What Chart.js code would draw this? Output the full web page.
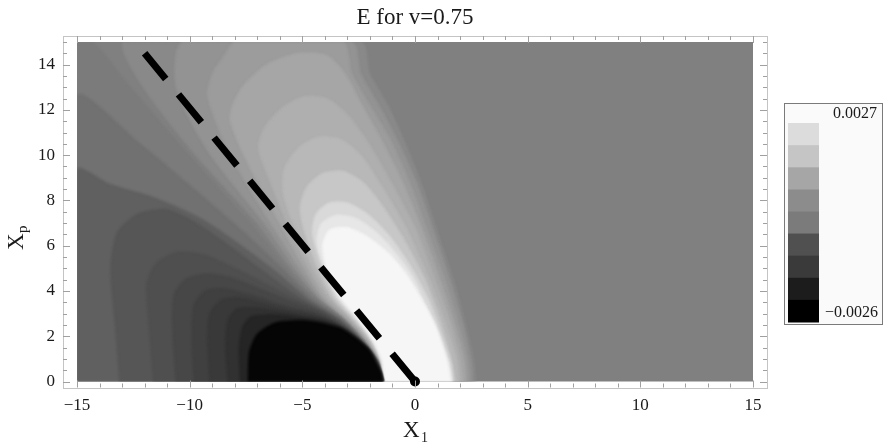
<!DOCTYPE html>
<html>
<head>
<meta charset="utf-8">
<script src="https://cdn.jsdelivr.net/npm/chart.js@4.4.1/dist/chart.umd.min.js"></script>
<style>
  html, body { margin: 0; padding: 0; background: #ffffff; }
  #wrap { width: 884px; height: 445px; }
</style>
</head>
<body>
<div id="wrap"><canvas id="c" width="884" height="445"></canvas></div>
<script>
// ---- field range and tick labels ----
const eMin = -0.0026;
const eMax = 0.0027;
const xTicks = [-15, -10, -5, 0, 5, 10, 15];
const yTicks = [0, 2, 4, 6, 8, 10, 12, 14];

// colour bar: one value per swatch, top to bottom
const colorbarLevels = [0.00196, 0.00147, 0.00081, 0.00026, -0.0001, -0.00098, -0.00142, -0.00203, -0.0026];
const colorbarLabels = ['0.0027', '\u22120.0026'];

// ---- positive contours (E >= level), outer to inner, as [X1, Xp] outlines ----
const posLevels = [0.0002, 0.0004, 0.0006, 0.0008, 0.0010, 0.0012, 0.0015, 0.0019, 0.0022, 0.0025];
const pos1 = [[-1.40,0],[-1.62,0.9],[-2.32,1.9],[-3.2,2.8],[-4.35,3.7],[-5.5,5],[-7.0,7],[-9.9,10.2],[-12.2,13.2],[-12.9,15],[-2.4,15],[-2.0,13.6],[-1.2,12.2],[-0.5,10.7],[0.3,8.7],[1.1,6.3],[1.8,4.2],[2.3,2.3],[2.6,1],[2.7,0]];
const pos2 = [[-1.395,0],[-1.6,0.9],[-2.28,1.9],[-3.15,2.8],[-4.25,3.7],[-5.3,5],[-6.7,7],[-9.2,10.2],[-10.6,13.0],[-10.3,15],[-2.8,15],[-2.4,13.6],[-1.6,12.2],[-0.8,10.7],[0.1,8.7],[0.9,6.4],[1.6,4.3],[2.15,2.4],[2.45,1],[2.55,0]];
const pos3 = [[-1.39,0],[-1.58,0.9],[-2.24,1.9],[-3.1,2.8],[-4.15,3.7],[-5.1,5],[-6.4,7],[-8.3,10.2],[-9.2,12.6],[-9.0,13.6],[-8.4,14.5],[-8.0,15],[-3.2,15],[-2.8,13.6],[-2.0,12.2],[-1.1,10.7],[-0.2,8.7],[0.6,6.5],[1.35,4.4],[1.95,2.4],[2.3,1],[2.4,0]];
const pos4 = [[-1.385,0],[-1.56,0.9],[-2.2,1.9],[-3.05,2.8],[-4.05,3.7],[-4.9,5],[-6.0,7],[-7.5,9.8],[-8.2,11.5],[-8.1,12.2],[-7.6,13.1],[-6.6,14.0],[-5.2,14.5],[-3.9,14.4],[-3.1,13.6],[-2.4,12.3],[-1.5,10.7],[-0.5,8.7],[0.35,6.6],[1.1,4.5],[1.75,2.5],[2.15,1],[2.25,0]];
const pos5 = [[-1.38,0],[-1.54,0.9],[-2.15,1.9],[-2.95,2.8],[-3.9,3.7],[-4.7,5],[-5.6,6.8],[-6.5,9],[-6.95,10.3],[-6.7,11.2],[-5.9,12.1],[-4.9,12.6],[-3.9,12.5],[-3.0,11.8],[-2.1,10.6],[-1.0,8.7],[0.0,6.8],[0.85,4.6],[1.55,2.6],[1.95,1.1],[2.1,0]];
const pos6 = [[-1.375,0],[-1.52,0.9],[-2.1,1.9],[-2.85,2.8],[-3.75,3.7],[-4.5,5],[-5.3,6.7],[-5.85,8.3],[-5.8,9.4],[-5.2,10.3],[-4.3,10.8],[-3.3,10.7],[-2.4,10],[-1.4,8.5],[-0.4,6.8],[0.55,4.7],[1.3,2.7],[1.8,1.1],[1.95,0]];
const pos7 = [[-1.37,0],[-1.5,0.9],[-2.05,1.9],[-2.8,2.8],[-3.65,3.7],[-4.3,5],[-4.9,6.6],[-5.1,7.7],[-4.8,8.6],[-4.1,9.2],[-3.2,9.3],[-2.3,8.8],[-1.4,7.7],[-0.5,6.3],[0.35,4.7],[1.05,2.9],[1.55,1.2],[1.8,0]];
const pos8 = [[-1.365,0],[-1.48,0.9],[-1.98,1.9],[-2.7,2.8],[-3.5,3.7],[-4.1,5],[-4.55,6.5],[-4.4,7.4],[-3.8,7.9],[-3.0,7.9],[-2.1,7.4],[-1.1,6.4],[-0.2,5.1],[0.6,3.6],[1.2,2.0],[1.6,0.8],[1.7,0]];
const pos9 = [[-1.355,0],[-1.47,0.9],[-1.94,1.9],[-2.62,2.8],[-3.4,3.7],[-4.0,4.95],[-4.35,6.2],[-4.15,7.0],[-3.5,7.35],[-2.6,7.2],[-1.6,6.5],[-0.8,5.6],[-0.1,4.6],[0.55,3.2],[1.1,1.9],[1.5,0.8],[1.65,0]];
const pos10 = [[-1.35,0],[-1.45,0.9],[-1.9,1.9],[-2.55,2.8],[-3.3,3.7],[-3.9,4.9],[-4.1,6.0],[-3.8,6.7],[-3.0,6.8],[-2.1,6.4],[-1.2,5.7],[-0.5,4.9],[0.2,3.8],[0.9,2.5],[1.4,1.0],[1.6,0]];

// ---- negative contours (E <= level), outer to inner ----
const negLevels = [-0.0001, -0.0003, -0.00065, -0.00085, -0.0010, -0.00115, -0.0013, -0.00145, -0.0016, -0.00185, -0.0025];
const neg1 = [[-15,0],[-15,15],[-14.3,15],[-12.8,13.2],[-10.2,10.2],[-7.3,7],[-5.7,5],[-4.5,3.7],[-3.25,2.8],[-2.38,1.9],[-1.66,0.9],[-1.41,0]];
const neg2 = [[-15,0],[-15,12.6],[-12.2,10.5],[-9.8,8.5],[-7.6,6.6],[-5.9,5],[-4.6,3.7],[-3.3,2.78],[-2.42,1.88],[-1.68,0.9],[-1.415,0]];
const neg3 = [[-15,0],[-15,9.35],[-13.5,8.7],[-11.5,8.1],[-9.5,7.2],[-7.7,6.0],[-6.1,4.8],[-4.75,3.65],[-3.35,2.76],[-2.44,1.88],[-1.7,0.9],[-1.42,0]];
const neg4 = [[-13.1,0],[-13.3,2.5],[-13.5,5],[-13.2,6.6],[-12.3,7.4],[-11,7.6],[-9.7,7.0],[-8.1,5.9],[-6.5,4.7],[-4.95,3.6],[-3.4,2.72],[-2.46,1.87],[-1.72,0.9],[-1.425,0]];
const neg5 = [[-11.6,0],[-11.8,2.5],[-11.9,4.3],[-11.5,5.2],[-10.6,5.7],[-9.4,5.6],[-8.0,5.0],[-6.6,4.3],[-5.2,3.6],[-4.0,3.0],[-3.4,2.65],[-2.48,1.87],[-1.73,0.9],[-1.43,0]];
const neg6 = [[-10.6,0],[-10.75,2.2],[-10.7,3.8],[-10.2,4.5],[-9.3,4.75],[-8.2,4.6],[-6.9,4.1],[-5.5,3.55],[-4.3,3.1],[-3.3,2.5],[-2.52,1.86],[-1.74,0.9],[-1.435,0]];
const neg7 = [[-9.8,0],[-9.9,2],[-9.8,3.4],[-9.3,4.0],[-8.5,4.1],[-7.4,3.85],[-6.1,3.45],[-4.8,3.1],[-3.8,2.75],[-2.95,2.2],[-2.55,1.85],[-1.75,0.9],[-1.44,0]];
const neg8 = [[-9.1,0],[-9.2,1.8],[-9.1,3.0],[-8.6,3.6],[-7.8,3.7],[-6.7,3.45],[-5.5,3.15],[-4.5,2.95],[-3.6,2.58],[-2.85,2.1],[-2.5,1.8],[-1.76,0.9],[-1.445,0]];
const neg9 = [[-8.3,0],[-8.4,1.6],[-8.3,2.7],[-7.9,3.2],[-7.1,3.25],[-6.0,3.1],[-4.9,2.9],[-4.0,2.72],[-3.2,2.35],[-2.6,1.9],[-2.1,1.45],[-1.76,0.9],[-1.45,0]];
const neg10 = [[-7.75,0],[-7.8,1.5],[-7.65,2.4],[-7.3,2.85],[-6.4,2.95],[-5.2,2.85],[-4.2,2.7],[-3.3,2.4],[-2.6,1.9],[-2.05,1.42],[-1.77,0.92],[-1.46,0]];
const neg11 = [[-7.4,0],[-7.35,1.3],[-7.0,2.1],[-6.2,2.6],[-5.0,2.7],[-4.2,2.6],[-3.3,2.35],[-2.6,1.9],[-2.05,1.4],[-1.76,0.9],[-1.5,0.4],[-1.42,0]];

// dashed guide from the origin
const guideX = [0, -12];
const guideY = [0, 14.5];

const posContours = [pos1, pos2, pos3, pos4, pos5, pos6, pos7, pos8, pos9, pos10];
const negContours = [neg1, neg2, neg3, neg4, neg5, neg6, neg7, neg8, neg9, neg10, neg11];

// linear grey scale: eMin -> black, 0 -> mid grey, eMax -> near white
function greyOf(v) {
  const g = v >= 0 ? 128 + v / eMax * 127 : 128 + v / (-eMin) * 128;
  const c = Math.round(Math.max(0, Math.min(255, g)));
  return 'rgb(' + c + ',' + c + ',' + c + ')';
}

function band(points, level) {
  const col = greyOf(level);
  return {
    data: points.map(p => ({ x: p[0], y: p[1] })),
    fill: 'shape',
    backgroundColor: col,
    borderColor: col,
    borderWidth: 0.6,
    pointRadius: 0,
    tension: 0.25
  };
}

const datasets = [];
posContours.forEach((pts, i) => datasets.push(band(pts, posLevels[i])));
negContours.forEach((pts, i) => datasets.push(band(pts, negLevels[i])));
const bandCount = datasets.length;
datasets.push({
  data: guideX.map((x, i) => ({ x: x, y: guideY[i] })),
  fill: false,
  borderColor: '#000000',
  borderWidth: 7,
  borderDash: [36, 20],
  borderCapStyle: 'butt',
  pointRadius: [5, 0],
  pointBackgroundColor: '#000000',
  pointBorderWidth: 0,
  tension: 0,
  clip: false
});
// later entries are painted on top
datasets.forEach((d, i) => { d.order = datasets.length - i; });

const SERIF = '"Liberation Serif", "Times New Roman", Times, serif';

const decor = {
  id: 'decor',
  beforeDatasetsDraw(chart) {
    const a = chart.chartArea, ctx = chart.ctx;
    ctx.save();
    ctx.fillStyle = greyOf(0);
    ctx.fillRect(a.left, a.top, a.right - a.left, a.bottom - a.top);
    ctx.restore();
    // soften the contour bands a little
    ctx.filter = 'blur(1.3px)';
  },
  afterDatasetDraw(chart, args) {
    if (args.index === bandCount - 1) chart.ctx.filter = 'none';
  },
  afterDraw(chart) {
    const ctx = chart.ctx, a = chart.chartArea;
    const sx = chart.scales.x, sy = chart.scales.y;
    ctx.filter = 'none';
    // frame around the plot, slightly outside it
    const fl = a.left - 14, fr = a.right + 14, ft = a.top - 6, fb = a.bottom + 6;
    ctx.save();
    ctx.strokeStyle = '#c4c4c4';
    ctx.lineWidth = 1;
    ctx.strokeRect(Math.round(fl) + 0.5, Math.round(ft) + 0.5, Math.round(fr - fl), Math.round(fb - ft));
    ctx.strokeStyle = '#a0a0a0';
    ctx.beginPath();
    for (let v = -15; v <= 15; v += 1) {
      const px = Math.round(sx.getPixelForValue(v)) + 0.5;
      const len = (v % 5 === 0) ? 7 : 4;
      ctx.moveTo(px, fb); ctx.lineTo(px, fb - len);
      ctx.moveTo(px, ft); ctx.lineTo(px, ft + len);
    }
    for (let v = 0; v <= 15; v += 0.5) {
      const py = Math.round(sy.getPixelForValue(v)) + 0.5;
      const len = (v % 2 === 0) ? 7 : 4;
      ctx.moveTo(fl, py); ctx.lineTo(fl + len, py);
      ctx.moveTo(fr, py); ctx.lineTo(fr - len, py);
    }
    ctx.stroke();

    // title
    ctx.fillStyle = '#1a1a1a';
    ctx.font = '23px ' + SERIF;
    ctx.textAlign = 'center';
    ctx.textBaseline = 'alphabetic';
    ctx.fillText('E for v=0.75', (a.left + a.right) / 2, 24);

    // horizontal axis label X1
    ctx.textAlign = 'left';
    ctx.font = '23px ' + SERIF;
    ctx.fillText('X', 403, 437);
    ctx.font = '14px ' + SERIF;
    ctx.fillText('1', 421, 442);

    // vertical axis label Xp
    ctx.save();
    ctx.translate(23, 250);
    ctx.rotate(-Math.PI / 2);
    ctx.font = '23px ' + SERIF;
    ctx.fillText('X', 0, 0);
    ctx.font = '15px ' + SERIF;
    ctx.fillText('p', 17, 4);
    ctx.restore();

    // colour bar
    const bx = 784, by = 103, bw = 99, bh = 222;
    ctx.fillStyle = '#fafafa';
    ctx.fillRect(bx, by, bw, bh);
    ctx.strokeStyle = '#7a7a7a';
    ctx.strokeRect(bx + 0.5, by + 0.5, bw - 1, bh - 1);
    const sw = 31, sh = 199 / colorbarLevels.length, s0 = 123;
    colorbarLevels.forEach((lv, i) => {
      ctx.fillStyle = greyOf(lv);
      ctx.fillRect(788, s0 + i * sh, sw, sh + 0.5);
    });
    ctx.fillStyle = '#1a1a1a';
    ctx.font = '16px ' + SERIF;
    ctx.textAlign = 'right';
    ctx.fillText(colorbarLabels[0], 877, 118);
    ctx.fillText(colorbarLabels[1], 878, 317);
    ctx.restore();
  }
};

new Chart(document.getElementById('c'), {
  type: 'line',
  data: { datasets: datasets },
  options: {
    responsive: false,
    animation: false,
    devicePixelRatio: 1,
    events: [],
    layout: { padding: { left: 0, top: 42, right: 131, bottom: 0 } },
    plugins: {
      legend: { display: false },
      tooltip: { enabled: false },
      title: { display: false }
    },
    scales: {
      x: {
        type: 'linear',
        min: -15, max: 15,
        grid: { display: false, drawTicks: false },
        border: { display: false },
        afterBuildTicks(scale) { scale.ticks = xTicks.map(v => ({ value: v })); },
        afterFit(scale) { scale.height = 63.5; },
        ticks: {
          padding: 14,
          maxRotation: 0,
          autoSkip: false,
          color: '#1a1a1a',
          font: { family: SERIF, size: 17 },
          callback: v => String(v).replace('-', '\u2212')
        }
      },
      y: {
        type: 'linear',
        min: 0, max: 15,
        grid: { display: false, drawTicks: false },
        border: { display: false },
        afterBuildTicks(scale) { scale.ticks = yTicks.map(v => ({ value: v })); },
        afterFit(scale) { scale.width = 77; },
        ticks: {
          padding: 22,
          autoSkip: false,
          color: '#1a1a1a',
          font: { family: SERIF, size: 17 },
          callback: v => String(v)
        }
      }
    }
  },
  plugins: [decor]
});
</script>
</body>
</html>
